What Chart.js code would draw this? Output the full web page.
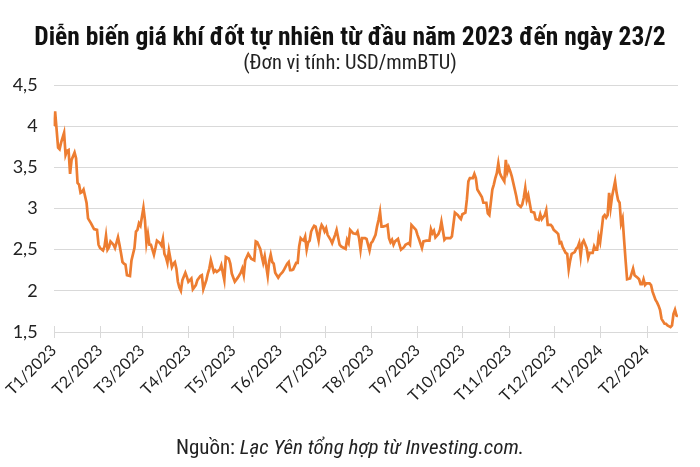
<!DOCTYPE html>
<html><head><meta charset="utf-8">
<script src="https://cdn.jsdelivr.net/npm/chart.js@4.4.1/dist/chart.umd.min.js"></script>
<style>
html,body{margin:0;padding:0;background:#fff;}
#wrap{position:relative;width:700px;height:467px;overflow:hidden;}
canvas{position:absolute;left:0;top:0;}
.t{position:absolute;left:0;width:700px;text-align:center;font-family:'Liberation Sans Narrow','Roboto Condensed',Roboto,sans-serif;color:#111;white-space:nowrap;line-height:1.15;}
#title{top:22px;font-size:25.5px;font-weight:bold;}
#sub{top:51px;font-size:20.5px;color:#222;}
#src{top:435px;font-size:21px;color:#222;}
</style></head><body>
<div id="wrap">
<canvas id="c" width="700" height="467"></canvas>
<div class="t" id="title">Diễn biến giá khí đốt tự nhiên từ đầu năm 2023 đến ngày 23/2</div>
<div class="t" id="sub">(Đơn vị tính: USD/mmBTU)</div>
<div class="t" id="src">Nguồn: <i>Lạc Yên tổng hợp từ Investing.com.</i></div>
</div>
<script>
// Day offsets from 1 Jan 2023
const days = [0,1,3,4,5,7,8,9,10,11,12,14,15,16,17,18,19,20,22,23,24,25,27,29,30,31,33,34,35,36,37,38,40,41,43,44,45,46,47,48,49,51,52,54,55,56,57,58,60,61,62,63,64,65,67,68,69,71,72,73,74,75,76,77,79,80,81,82,83,84,85,86,88,89,90,91,92,93,95,96,98,99,100,102,103,104,105,107,108,109,111,112,114,115,117,118,119,121,123,125,126,127,128,130,131,132,134,135,136,138,139,140,141,142,143,144,145,146,147,148,150,151,153,154,156,157,158,159,160,162,163,164,165,166,167,168,169,170,171,172,173,174,175,177,178,179,180,181,182,183,185,186,187,188,189,191,192,193,195,196,197,198,200,202,203,204,205,206,208,209,211,212,213,215,216,217,218,219,220,222,223,224,225,226,227,228,230,231,232,234,235,237,238,239,240,242,243,244,246,247,249,250,251,252,253,254,255,257,258,259,261,262,265,266,268,270,271,272,273,275,276,277,278,280,281,282,283,285,286,287,289,290,291,293,294,295,296,297,298,299,301,302,303,304,305,306,308,309,310,312,313,314,315,316,317,318,319,321,322,324,325,326,328,329,330,332,333,334,336,337,338,339,340,342,343,344,345,346,348,349,350,351,352,353,354,356,357,358,360,361,362,363,364,365,366,367,368,369,370,371,372,373,375,376,377,378,379,380,381,382,383,385,386,387,388,390,391,392,393,394,395,396,398,399,400,402,403,404,405,406,408,409,410,412,413,414,415,416,417];
// Natural gas price, USD/mmBTU
const prices = [4.00,4.18,3.74,3.72,3.80,3.92,3.65,3.70,3.71,3.42,3.59,3.68,3.61,3.31,3.29,3.19,3.20,3.23,3.07,2.88,2.85,2.82,2.75,2.74,2.56,2.52,2.49,2.54,2.67,2.50,2.53,2.60,2.56,2.52,2.65,2.56,2.46,2.35,2.33,2.32,2.19,2.18,2.37,2.52,2.72,2.74,2.82,2.79,3.01,2.86,2.58,2.69,2.56,2.56,2.44,2.52,2.61,2.58,2.55,2.63,2.45,2.41,2.34,2.49,2.29,2.33,2.35,2.27,2.11,2.04,2.00,2.13,2.22,2.17,2.11,2.13,2.15,2.02,2.07,2.13,2.18,2.19,2.02,2.13,2.21,2.27,2.37,2.23,2.25,2.23,2.26,2.31,2.13,2.41,2.39,2.33,2.21,2.11,2.16,2.22,2.27,2.19,2.37,2.45,2.42,2.39,2.37,2.60,2.59,2.51,2.42,2.34,2.42,2.30,2.18,2.36,2.44,2.35,2.33,2.22,2.16,2.19,2.23,2.26,2.33,2.35,2.25,2.25,2.26,2.34,2.34,2.54,2.64,2.62,2.61,2.66,2.50,2.59,2.61,2.72,2.76,2.79,2.78,2.61,2.74,2.80,2.77,2.72,2.76,2.68,2.62,2.58,2.63,2.68,2.74,2.56,2.54,2.53,2.51,2.62,2.58,2.74,2.70,2.69,2.72,2.64,2.50,2.64,2.64,2.63,2.49,2.58,2.60,2.68,2.78,2.86,2.96,2.78,2.78,2.79,2.80,2.64,2.59,2.62,2.56,2.60,2.63,2.56,2.50,2.53,2.56,2.58,2.56,2.80,2.78,2.74,2.68,2.63,2.52,2.60,2.61,2.61,2.61,2.75,2.70,2.73,2.65,2.69,2.74,2.84,2.62,2.64,2.64,2.66,2.95,2.92,2.89,2.87,2.93,2.95,3.11,3.33,3.37,3.37,3.42,3.37,3.23,3.17,3.14,3.07,3.07,2.94,2.92,3.23,3.29,3.37,3.43,3.55,3.43,3.39,3.33,3.59,3.44,3.50,3.45,3.39,3.23,3.15,3.05,3.02,3.05,3.13,3.25,3.10,3.16,3.06,2.96,2.95,2.87,2.86,2.93,2.87,2.92,2.98,2.80,2.80,2.78,2.74,2.71,2.69,2.58,2.59,2.53,2.46,2.45,2.26,2.37,2.45,2.47,2.51,2.53,2.58,2.42,2.58,2.61,2.52,2.40,2.46,2.46,2.54,2.50,2.50,2.66,2.59,2.74,2.90,2.92,2.89,2.92,3.19,3.01,3.15,3.33,3.19,3.10,3.07,2.82,2.88,2.62,2.37,2.14,2.15,2.21,2.27,2.19,2.16,2.14,2.08,2.08,2.14,2.07,2.09,2.09,2.07,1.99,1.89,1.86,1.82,1.77,1.66,1.60,1.60,1.58,1.56,1.58,1.72,1.77,1.70,1.69];
// Month starts (day offsets) and their labels
const monthDays = [0,31,59,90,120,151,181,212,243,273,304,334,365,396];
const monthLabels = ['T1/2023','T2/2023','T3/2023','T4/2023','T5/2023','T6/2023','T7/2023','T8/2023','T9/2023','T10/2023','T11/2023','T12/2023','T1/2024','T2/2024'];
const yTicks = [1.5,2,2.5,3,3.5,4,4.5];

const tickMarks = {
  id:'tickMarks',
  afterDraw(chart){
    const xs = chart.scales.x, ctx = chart.ctx, b = chart.chartArea.bottom;
    ctx.save(); ctx.strokeStyle='#d9d9d9'; ctx.lineWidth=1;
    xs.ticks.forEach(t=>{
      const px = Math.round(xs.getPixelForValue(t.value))+0.5;
      ctx.beginPath(); ctx.moveTo(px,b-6); ctx.lineTo(px,b+6); ctx.stroke();
    });
    ctx.restore();
  }
};

new Chart(document.getElementById('c'), {
  type:'line',
  data:{datasets:[{
    data: days.map((d,i)=>({x:d,y:prices[i]})),
    borderColor:'#ED7D31', borderWidth:2.7, pointRadius:0, tension:0, fill:false
  }]},
  options:{
    responsive:false, animation:false, devicePixelRatio:1,
    layout:{padding:{top:85,right:22,left:0,bottom:0}},
    plugins:{legend:{display:false},tooltip:{enabled:false}},
    scales:{
      x:{type:'linear',min:0,max:417,
        afterBuildTicks(s){ s.ticks = monthDays.map(v=>({value:v})); },
        afterFit(s){ s.height = 135; },
        grid:{drawOnChartArea:false,drawTicks:false},
        border:{display:false},
        ticks:{autoSkip:false,maxRotation:45,minRotation:45,padding:9,color:'#222',
          font:{family:'Lato',size:16},
          callback:(v,i)=>monthLabels[i]}
      },
      y:{min:1.5,max:4.5,
        afterBuildTicks(s){ s.ticks = yTicks.map(v=>({value:v})); },
        afterFit(s){ s.width = 52; },
        grid:{color:'#d9d9d9',drawTicks:false},
        border:{display:false},
        ticks:{padding:16,color:'#222',font:{family:'Lato',size:18},
          callback:v=>String(v).replace('.',',')}
      }
    }
  },
  plugins:[tickMarks]
});
</script>
</body></html>
